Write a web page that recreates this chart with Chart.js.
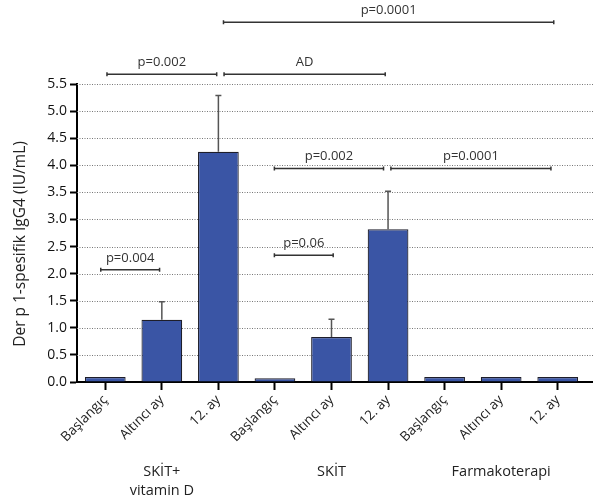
<!DOCTYPE html>
<html>
<head>
<meta charset="utf-8">
<script src="https://cdn.jsdelivr.net/npm/chart.js@4/dist/chart.umd.min.js"></script>
<style>
  html, body { margin: 0; padding: 0; background: #fff; }
  #wrap { width: 601px; height: 503px; position: relative; }
</style>
</head>
<body>
<div id="wrap"><canvas id="chart" width="601" height="503"></canvas></div>
<script>
// ---- Data ----
const categories = ['Başlangıç', 'Altıncı ay', '12. ay', 'Başlangıç', 'Altıncı ay', '12. ay', 'Başlangıç', 'Altıncı ay', '12. ay'];
const means = [0.09, 1.15, 4.25, 0.07, 0.83, 2.82, 0.09, 0.09, 0.09];
const errorTops = [null, 1.48, 5.29, null, 1.16, 3.52, null, null, null];
const yTicks = [0, 0.5, 1, 1.5, 2, 2.5, 3, 3.5, 4, 4.5, 5, 5.5];

const groupLabels = [['SKİT+', 'vitamin D'], ['SKİT'], ['Farmakoterapi']];
const groupCenters = [1, 4, 7];

// significance brackets (category index from/to, y value)
const bracketLabels = ['p=0.0001', 'p=0.002', 'AD', 'p=0.002', 'p=0.0001', 'p=0.004', 'p=0.06'];
const bracketFrom = [2.09, 0.03, 2.10, 2.99, 5.05, -0.08, 2.99];
const bracketTo = [7.93, 1.97, 4.95, 4.92, 7.88, 0.96, 4.03];
const bracketY = [6.64, 5.68, 5.68, 3.94, 3.94, 2.07, 2.34];

const FONT = "'Open Sans', 'Noto Sans', sans-serif";

// ---- Extras: dotted grid, error bars, brackets, group labels, axis title ----
const extras = {
  id: 'extras',
  beforeDatasetsDraw(chart) {
    const { ctx, chartArea, scales } = chart;
    ctx.save();
    ctx.strokeStyle = '#777';
    ctx.lineWidth = 1;
    ctx.setLineDash([1, 1.5]);
    yTicks.forEach(v => {
      if (v === 0) return;
      const y = Math.round(scales.y.getPixelForValue(v)) + 0.5;
      ctx.beginPath();
      ctx.moveTo(chartArea.left, y);
      ctx.lineTo(chartArea.right + 7, y);
      ctx.stroke();
    });
    ctx.restore();
  },
  afterDatasetsDraw(chart) {
    const { ctx, chartArea, scales } = chart;
    const x = scales.x, y = scales.y;
    ctx.save();

    // error bars
    ctx.strokeStyle = '#555';
    ctx.lineWidth = 1.5;
    errorTops.forEach((top, i) => {
      if (top == null) return;
      const px = x.getPixelForValue(i);
      const y0 = y.getPixelForValue(means[i]);
      const y1 = y.getPixelForValue(top);
      ctx.beginPath();
      ctx.moveTo(px, y0);
      ctx.lineTo(px, y1);
      ctx.moveTo(px - 3, y1);
      ctx.lineTo(px + 3, y1);
      ctx.stroke();
    });

    // x axis extension to the right
    ctx.strokeStyle = '#000';
    ctx.lineWidth = 2;
    ctx.beginPath();
    ctx.moveTo(chartArea.right - 1, chartArea.bottom);
    ctx.lineTo(chartArea.right + 7, chartArea.bottom);
    ctx.stroke();

    // brackets
    ctx.strokeStyle = '#333';
    ctx.fillStyle = '#333';
    ctx.lineWidth = 1.5;
    ctx.font = '13px ' + FONT;
    ctx.textAlign = 'center';
    ctx.textBaseline = 'middle';
    bracketLabels.forEach((label, i) => {
      const x0 = x.getPixelForValue(bracketFrom[i]);
      const x1 = x.getPixelForValue(bracketTo[i]);
      const py = y.getPixelForValue(bracketY[i]);
      ctx.beginPath();
      ctx.moveTo(x0, py);
      ctx.lineTo(x1, py);
      ctx.moveTo(x0, py - 2);
      ctx.lineTo(x0, py + 2);
      ctx.moveTo(x1, py - 2);
      ctx.lineTo(x1, py + 2);
      ctx.stroke();
      ctx.fillText(label, (x0 + x1) / 2, py - 12);
    });

    // group labels
    ctx.fillStyle = '#222';
    ctx.font = '14.5px ' + FONT;
    groupLabels.forEach((lines, i) => {
      const px = x.getPixelForValue(groupCenters[i]);
      lines.forEach((t, j) => ctx.fillText(t, px, 472 + j * 19));
    });

    // y axis title
    ctx.font = '15.5px ' + FONT;
    ctx.save();
    ctx.translate(21, 244);
    ctx.rotate(-Math.PI / 2);
    ctx.fillText('Der p 1-spesifik IgG4 (IU/mL)', 0, 0);
    ctx.restore();

    ctx.restore();
  }
};

new Chart(document.getElementById('chart'), {
  type: 'bar',
  data: {
    labels: categories,
    datasets: [{
      data: means,
      backgroundColor: '#3a55a5',
      borderColor: '#1e1e2a',
      borderWidth: 1.2,
      barPercentage: 0.72,
      categoryPercentage: 1
    }]
  },
  options: {
    responsive: false,
    animation: false,
    layout: { padding: { top: 84, right: 15, left: 0, bottom: 0 } },
    plugins: { legend: { display: false }, tooltip: { enabled: false } },
    scales: {
      x: {
        offset: true,
        grid: { offset: false, drawOnChartArea: false, drawTicks: true, tickLength: 8, tickWidth: 2, tickColor: '#000' },
        border: { color: '#000', width: 2 },
        ticks: {
          autoSkip: false, maxRotation: 45, minRotation: 45, padding: 2,
          color: '#222', font: { family: FONT, size: 13.5 }
        },
        afterFit(scale) { scale.height = 121; }
      },
      y: {
        min: 0, max: 5.5,
        afterBuildTicks(scale) { scale.ticks = yTicks.map(v => ({ value: v })); },
        grid: { drawOnChartArea: false, drawTicks: true, tickLength: 7, tickWidth: 2, tickColor: '#000' },
        border: { color: '#000', width: 2 },
        ticks: {
          padding: 3, color: '#111', font: { family: FONT, size: 14 },
          callback: v => Number(v).toFixed(1)
        },
        afterFit(scale) { scale.width = 77; }
      }
    }
  },
  plugins: [extras]
});
</script>
</body>
</html>
